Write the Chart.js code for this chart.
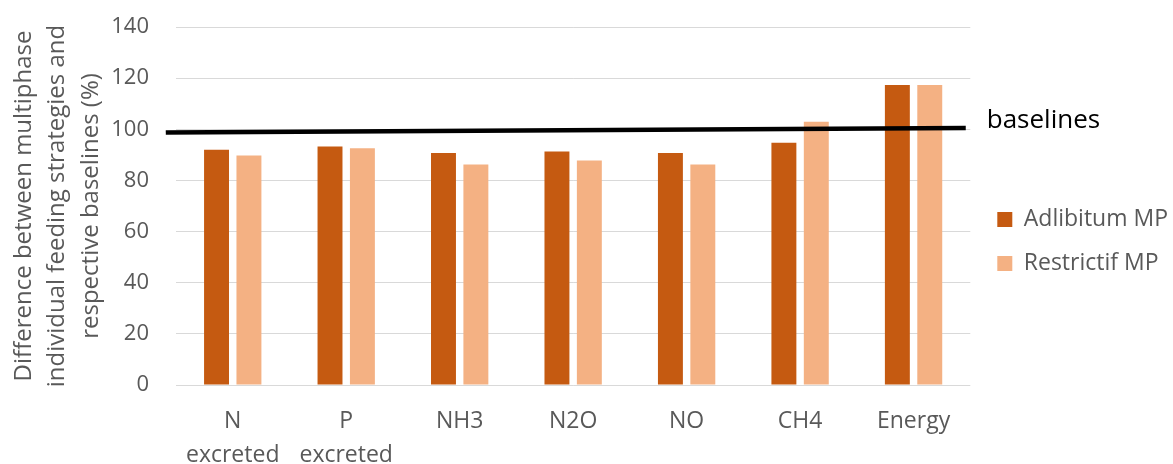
<!DOCTYPE html>
<html>
<head>
<meta charset="utf-8">
<title>Multiphase feeding strategies vs baselines</title>
<script src="https://cdn.jsdelivr.net/npm/chart.js@4/dist/chart.umd.min.js"></script>
<style>
  html, body { margin: 0; padding: 0; background: #ffffff; }
  #wrap { width: 1173px; height: 464px; }
</style>
</head>
<body>
<div id="wrap"><canvas id="chart" width="1173" height="464"></canvas></div>
<script>
// Categories (multi-line labels are arrays)
const categories = [['N', 'excreted'], ['P', 'excreted'], 'NH3', 'N2O', 'NO', 'CH4', 'Energy'];

// Series values, % of respective baseline
const adlibitumMP  = [92.0, 93.3, 90.7, 91.3, 90.7, 94.7, 117.3];
const restrictifMP = [89.7, 92.6, 86.2, 87.8, 86.2, 102.9, 117.3];

// Baseline reference line: ends in category-index units along x, and their values
const baselineX = [-0.59, 6.46];
const baselineY = [98.7, 100.5];

// Y axis tick values
const yTickValues = [0, 20, 40, 60, 80, 100, 120, 140];

const yTitleLines = ['Difference between multiphase', 'individual feeding strategies and', 'respective baselines (%)'];
const seriesNames = ['Adlibitum MP', 'Restrictif MP'];
const baselineLabel = 'baselines';

const FONT = "'Open Sans', 'Noto Sans', 'DejaVu Sans', sans-serif";
const GREY_TEXT = '#595959';
const GRID = '#D9D9D9';
const DARK = '#C55A11';
const LIGHT = '#F4B183';

// Draws the baseline reference line through the chart's x/y scales and labels it
const baselinePlugin = {
  id: 'baselineLine',
  beforeDraw(chart) {
    const lg = chart.legend;
    if (lg && !lg._shifted) {
      lg.left += 6; lg.right += 6;
      lg.top -= 4; lg.bottom -= 4;
      lg._shifted = true;
    }
  },
  afterDatasetsDraw(chart) {
    const xs = chart.scales.x, ys = chart.scales.y;
    const pts = baselineX.map((v, i) => ({ x: xs.getPixelForValue(v), y: ys.getPixelForValue(baselineY[i]) }));
    const ctx = chart.ctx;
    ctx.save();
    ctx.strokeStyle = '#000000';
    ctx.lineWidth = 4.5;
    ctx.lineCap = 'butt';
    ctx.beginPath();
    pts.forEach((p, i) => (i ? ctx.lineTo(p.x, p.y) : ctx.moveTo(p.x, p.y)));
    ctx.stroke();
    const end = pts[pts.length - 1];
    ctx.font = "26px " + FONT;
    ctx.fillStyle = '#000000';
    ctx.textAlign = 'left';
    ctx.textBaseline = 'alphabetic';
    ctx.fillText(baselineLabel, end.x + 21, end.y);
    ctx.restore();
  }
};

function build() {
  const ctx = document.getElementById('chart').getContext('2d');
  new Chart(ctx, {
    type: 'bar',
    data: {
      labels: categories,
      datasets: [
        {
          label: seriesNames[0],
          data: adlibitumMP,
          backgroundColor: DARK,
          borderWidth: 0,
          categoryPercentage: 0.571,
          barPercentage: 0.77
        },
        {
          label: seriesNames[1],
          data: restrictifMP,
          backgroundColor: LIGHT,
          borderWidth: 0,
          categoryPercentage: 0.571,
          barPercentage: 0.77
        }
      ]
    },
    options: {
      responsive: false,
      animation: false,
      events: [],
      layout: { padding: { top: 27, left: 0, right: 1, bottom: 0 } },
      plugins: {
        tooltip: { enabled: false },
        legend: {
          position: 'right',
          align: 'center',
          labels: {
            boxWidth: 15,
            boxHeight: 15,
            padding: 21,
            color: GREY_TEXT,
            font: { family: FONT, size: 23 }
          }
        }
      },
      scales: {
        x: {
          type: 'category',
          offset: true,
          grid: { display: false, drawTicks: false },
          border: { display: false },
          ticks: {
            color: GREY_TEXT,
            padding: 20,
            maxRotation: 0,
            autoSkip: false,
            font: { family: FONT, size: 23, lineHeight: 1.45 }
          },
          afterFit(scale) { scale.height = 79; }
        },
        y: {
          type: 'linear',
          min: yTickValues[0],
          max: yTickValues[yTickValues.length - 1],
          afterBuildTicks(scale) { scale.ticks = yTickValues.map(v => ({ value: v })); },
          grid: { color: GRID, lineWidth: 1, drawTicks: false },
          border: { display: false },
          ticks: {
            color: GREY_TEXT,
            padding: 27,
            font: { family: FONT, size: 22 }
          },
          title: {
            display: true,
            text: yTitleLines,
            color: GREY_TEXT,
            padding: { top: 7, bottom: 0 },
            font: { family: FONT, size: 24, lineHeight: 1.4 }
          },
          afterFit(scale) {
            scale.width = 176;
            // keep only half a label height above/below the plot
            scale.paddingTop = 13;
            scale.paddingBottom = 13;
          }
        }
      }
    },
    plugins: [baselinePlugin]
  });
}

if (document.fonts && document.fonts.load) {
  Promise.all([
    document.fonts.load("22px 'Open Sans'"),
    document.fonts.load("26px 'Open Sans'")
  ]).then(build, build);
} else {
  build();
}
</script>
</body>
</html>
